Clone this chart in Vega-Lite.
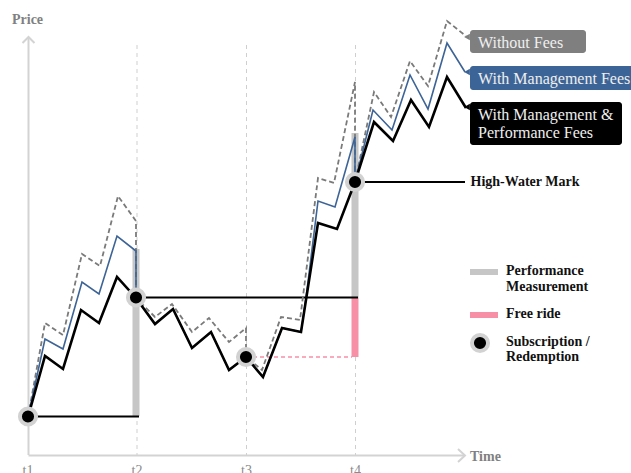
{
  "$schema": "https://vega.github.io/schema/vega-lite/v6.json",
  "width": 631,
  "height": 473,
  "padding": 0,
  "autosize": {"type": "none"},
  "config": {"view": {"stroke": null}, "text": {"font": "Liberation Serif"}},
  "encoding": {
    "x": {"field": "x", "type": "quantitative", "scale": {"domain": [0, 631], "nice": false, "zero": false}, "axis": null},
    "y": {"field": "p", "type": "quantitative", "scale": {"domain": [-18, 455], "nice": false, "zero": false}, "axis": null}
  },
  "layer": [
    {
      "data": {"values": [{"t": "t2", "x": 137, "p": 410, "p2": 0}, {"t": "t3", "x": 246.5, "p": 410, "p2": 0}, {"t": "t4", "x": 355.5, "p": 410, "p2": 0}]},
      "mark": {"type": "rule", "color": "#cfcfcf", "strokeWidth": 1, "strokeDash": [4, 4]},
      "encoding": {"y2": {"field": "p2"}}
    },
    {
      "data": {"values": [
        {"seg": "y", "i": 0, "x": 28.5, "p": 0}, {"seg": "y", "i": 1, "x": 28.5, "p": 418},
        {"seg": "ya", "i": 0, "x": 22.5, "p": 412}, {"seg": "ya", "i": 1, "x": 28.5, "p": 418}, {"seg": "ya", "i": 2, "x": 34.5, "p": 412},
        {"seg": "x", "i": 0, "x": 28.5, "p": -0.5}, {"seg": "x", "i": 1, "x": 465, "p": -0.5},
        {"seg": "xa", "i": 0, "x": 458, "p": 6}, {"seg": "xa", "i": 1, "x": 465, "p": -0.5}, {"seg": "xa", "i": 2, "x": 458, "p": -7}
      ]},
      "mark": {"type": "line", "color": "#d3d3d3", "strokeWidth": 2},
      "encoding": {"detail": {"field": "seg"}, "order": {"field": "i"}}
    },
    {
      "data": {"values": [{"x": 136, "p": 206, "p2": 39}, {"x": 355, "p": 322, "p2": 157}]},
      "mark": {"type": "rule", "color": "#c6c6c6", "strokeWidth": 7},
      "encoding": {"y2": {"field": "p2"}}
    },
    {
      "data": {"values": [{"x": 355, "p": 157, "p2": 98}]},
      "mark": {"type": "rule", "color": "#f78fa7", "strokeWidth": 7},
      "encoding": {"y2": {"field": "p2"}}
    },
    {
      "data": {"values": [{"x": 470, "x2": 498, "p": 183}]},
      "mark": {"type": "rule", "color": "#c6c6c6", "strokeWidth": 6},
      "encoding": {"x2": {"field": "x2"}}
    },
    {
      "data": {"values": [{"x": 470, "x2": 498, "p": 140}]},
      "mark": {"type": "rule", "color": "#f78fa7", "strokeWidth": 6},
      "encoding": {"x2": {"field": "x2"}}
    },
    {
      "data": {"values": [{"x": 28, "x2": 139, "p": 38.5}, {"x": 136, "x2": 358, "p": 157.5}, {"x": 355, "x2": 465, "p": 273}]},
      "mark": {"type": "rule", "color": "#000000", "strokeWidth": 1.8},
      "encoding": {"x2": {"field": "x2"}}
    },
    {
      "data": {"values": [{"x": 246, "x2": 352, "p": 98}]},
      "mark": {"type": "rule", "color": "#f78fa7", "strokeWidth": 1.6, "strokeDash": [4, 3]},
      "encoding": {"x2": {"field": "x2"}}
    },
    {
      "data": {"values": [
        {"i": 0, "x": 28, "p": 38}, {"i": 1, "x": 45, "p": 132}, {"i": 2, "x": 63, "p": 120}, {"i": 3, "x": 82, "p": 201},
        {"i": 4, "x": 100, "p": 189}, {"i": 5, "x": 118, "p": 259}, {"i": 6, "x": 136, "p": 234}, {"i": 7, "x": 136, "p": 157},
        {"i": 8, "x": 155, "p": 138}, {"i": 9, "x": 172, "p": 151}, {"i": 10, "x": 192, "p": 123}, {"i": 11, "x": 209, "p": 137},
        {"i": 12, "x": 229, "p": 113}, {"i": 13, "x": 246, "p": 127}, {"i": 14, "x": 246, "p": 98}, {"i": 15, "x": 262, "p": 85},
        {"i": 16, "x": 281, "p": 138}, {"i": 17, "x": 300, "p": 135}, {"i": 18, "x": 318, "p": 277}, {"i": 19, "x": 334, "p": 272},
        {"i": 20, "x": 355, "p": 373}, {"i": 21, "x": 355, "p": 273}, {"i": 22, "x": 374, "p": 363}, {"i": 23, "x": 391, "p": 338},
        {"i": 24, "x": 410, "p": 394}, {"i": 25, "x": 428, "p": 369}, {"i": 26, "x": 447, "p": 434}, {"i": 27, "x": 466, "p": 419}
      ]},
      "mark": {"type": "line", "color": "#7a7a7a", "strokeWidth": 1.8, "strokeDash": [5, 3]},
      "encoding": {"order": {"field": "i"}}
    },
    {
      "data": {"values": [
        {"i": 0, "x": 28, "p": 38}, {"i": 1, "x": 45, "p": 116}, {"i": 2, "x": 63, "p": 106}, {"i": 3, "x": 82, "p": 173},
        {"i": 4, "x": 99, "p": 161}, {"i": 5, "x": 117, "p": 219}, {"i": 6, "x": 136, "p": 204}, {"i": 7, "x": 136, "p": 157},
        {"i": 8, "x": 155, "p": 131}, {"i": 9, "x": 173, "p": 146}, {"i": 10, "x": 192, "p": 107}, {"i": 11, "x": 211, "p": 123},
        {"i": 12, "x": 229, "p": 85}, {"i": 13, "x": 246, "p": 98}, {"i": 14, "x": 263, "p": 78}, {"i": 15, "x": 282, "p": 127},
        {"i": 16, "x": 301, "p": 123}, {"i": 17, "x": 306, "p": 157}, {"i": 18, "x": 318, "p": 254}, {"i": 19, "x": 335, "p": 248},
        {"i": 20, "x": 355, "p": 318}, {"i": 21, "x": 355, "p": 273}, {"i": 22, "x": 373, "p": 345}, {"i": 23, "x": 392, "p": 325},
        {"i": 24, "x": 410, "p": 380}, {"i": 25, "x": 428, "p": 346}, {"i": 26, "x": 447, "p": 412}, {"i": 27, "x": 465, "p": 383}
      ]},
      "mark": {"type": "line", "color": "#3d6496", "strokeWidth": 1.6},
      "encoding": {"order": {"field": "i"}}
    },
    {
      "data": {"values": [
        {"i": 0, "x": 28, "p": 38}, {"i": 1, "x": 45, "p": 99}, {"i": 2, "x": 63, "p": 86}, {"i": 3, "x": 81, "p": 145},
        {"i": 4, "x": 99, "p": 132}, {"i": 5, "x": 117, "p": 178}, {"i": 6, "x": 136, "p": 157}, {"i": 7, "x": 155, "p": 131},
        {"i": 8, "x": 173, "p": 146}, {"i": 9, "x": 192, "p": 107}, {"i": 10, "x": 211, "p": 123}, {"i": 11, "x": 229, "p": 85},
        {"i": 12, "x": 246, "p": 98}, {"i": 13, "x": 263, "p": 78}, {"i": 14, "x": 282, "p": 127}, {"i": 15, "x": 301, "p": 123},
        {"i": 16, "x": 318, "p": 232}, {"i": 17, "x": 337, "p": 226}, {"i": 18, "x": 355, "p": 273}, {"i": 19, "x": 374, "p": 333},
        {"i": 20, "x": 393, "p": 314}, {"i": 21, "x": 411, "p": 355}, {"i": 22, "x": 429, "p": 328}, {"i": 23, "x": 447, "p": 378},
        {"i": 24, "x": 466, "p": 347}
      ]},
      "mark": {"type": "line", "color": "#000000", "strokeWidth": 2.6},
      "encoding": {"order": {"field": "i"}}
    },
    {
      "data": {"values": [{"x": 28, "p": 38.5}, {"x": 136, "p": 157.5}, {"x": 246, "p": 98}, {"x": 355, "p": 273}, {"x": 480, "p": 112}]},
      "mark": {"type": "point", "shape": "circle", "filled": true, "fill": "#000000", "stroke": "#d2d2d2", "strokeWidth": 4, "size": 260, "opacity": 1, "fillOpacity": 1, "strokeOpacity": 1}
    },
    {
      "data": {"values": [{"x": 470, "x2": 586, "p": 425, "p2": 402}]},
      "mark": {"type": "rect", "color": "#7f7f7f", "cornerRadius": 3},
      "encoding": {"x2": {"field": "x2"}, "y2": {"field": "p2"}}
    },
    {
      "data": {"values": [{"x": 470, "x2": 645, "p": 389, "p2": 365}]},
      "mark": {"type": "rect", "color": "#3d6496", "cornerRadius": 3},
      "encoding": {"x2": {"field": "x2"}, "y2": {"field": "p2"}}
    },
    {
      "data": {"values": [{"x": 470, "x2": 622, "p": 353, "p2": 310}]},
      "mark": {"type": "rect", "color": "#000000", "cornerRadius": 3},
      "encoding": {"x2": {"field": "x2"}, "y2": {"field": "p2"}}
    },
    {
      "data": {"values": [{"x": 467, "p": 418}]},
      "mark": {"type": "point", "shape": "triangle-left", "filled": true, "color": "#7f7f7f", "size": 45, "opacity": 1}
    },
    {
      "data": {"values": [{"x": 467, "p": 383}]},
      "mark": {"type": "point", "shape": "triangle-left", "filled": true, "color": "#3d6496", "size": 45, "opacity": 1}
    },
    {
      "data": {"values": [{"x": 467, "p": 348}]},
      "mark": {"type": "point", "shape": "triangle-left", "filled": true, "color": "#000000", "size": 45, "opacity": 1}
    },
    {
      "data": {"values": [{"x": 478, "p": 412, "label": "Without Fees"}, {"x": 478, "p": 376, "label": "With Management Fees"}, {"x": 478, "p": 340, "label": "With Management &"}, {"x": 478, "p": 322.5, "label": "Performance Fees"}]},
      "mark": {"type": "text", "align": "left", "baseline": "middle", "fontSize": 16, "color": "#efefef"},
      "encoding": {"text": {"field": "label"}}
    },
    {
      "data": {"values": [{"x": 12, "p": 435, "label": "Price"}, {"x": 470, "p": -2, "label": "Time"}]},
      "mark": {"type": "text", "align": "left", "baseline": "middle", "fontSize": 14, "fontWeight": "bold", "color": "#808080"},
      "encoding": {"text": {"field": "label"}}
    },
    {
      "data": {"values": [{"x": 28, "p": -20, "label": "t1"}, {"x": 137, "p": -20, "label": "t2"}, {"x": 246.5, "p": -20, "label": "t3"}, {"x": 355.5, "p": -20, "label": "t4"}]},
      "mark": {"type": "text", "align": "center", "baseline": "alphabetic", "fontSize": 14, "color": "#8a8a8a"},
      "encoding": {"text": {"field": "label"}}
    },
    {
      "data": {"values": [
        {"x": 470.5, "p": 273, "label": "High-Water Mark"},
        {"x": 506, "p": 184, "label": "Performance"},
        {"x": 506, "p": 168, "label": "Measurement"},
        {"x": 506, "p": 141, "label": "Free ride"},
        {"x": 506, "p": 113, "label": "Subscription /"},
        {"x": 506, "p": 98, "label": "Redemption"}
      ]},
      "mark": {"type": "text", "align": "left", "baseline": "middle", "fontSize": 14, "fontWeight": "bold", "color": "#111111"},
      "encoding": {"text": {"field": "label"}}
    }
  ]
}
